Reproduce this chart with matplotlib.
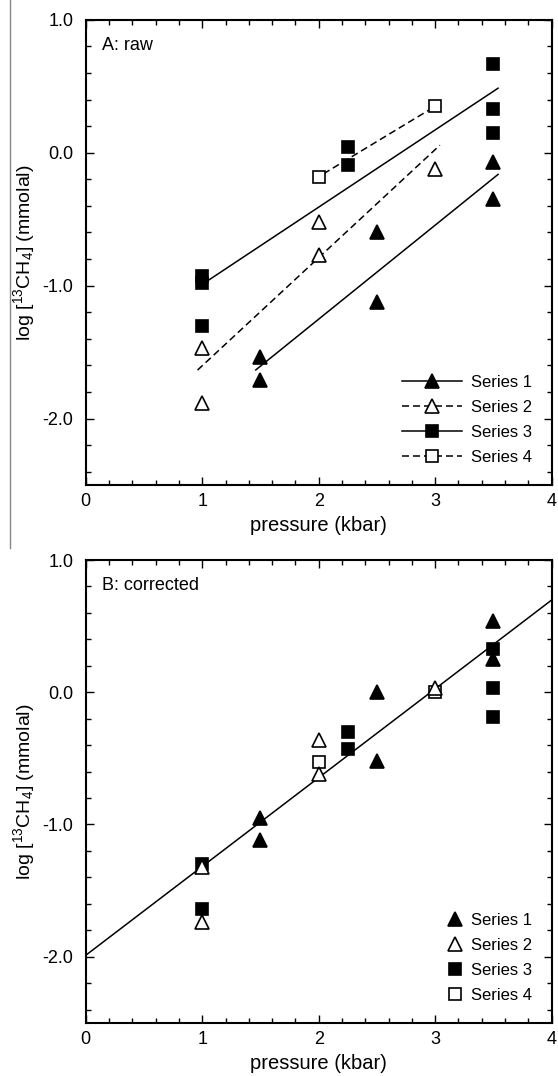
import numpy as np
import matplotlib
matplotlib.use('Agg')
import matplotlib.pyplot as plt
from matplotlib.lines import Line2D
from matplotlib.ticker import MultipleLocator, FormatStrFormatter

plt.rcParams['font.family'] = ['Liberation Sans', 'DejaVu Sans']
plt.rcParams['mathtext.default'] = 'regular'
plt.rcParams['axes.unicode_minus'] = False

# panel A: raw
raw_s1_x = [1.5, 1.5, 2.5, 2.5, 3.5, 3.5]
raw_s1_y = [-1.54, -1.71, -0.60, -1.12, -0.07, -0.35]
raw_s2_x = [1, 1, 2, 2, 3]
raw_s2_y = [-1.47, -1.88, -0.52, -0.77, -0.12]
raw_s3_x = [1, 1, 1, 2.25, 2.25, 3.5, 3.5, 3.5]
raw_s3_y = [-0.93, -0.98, -1.30, 0.04, -0.09, 0.67, 0.33, 0.15]
raw_s4_x = [2, 3]
raw_s4_y = [-0.18, 0.35]

# panel B: corrected
cor_s1_x = [1.5, 1.5, 2.5, 2.5, 3.5, 3.5]
cor_s1_y = [-0.95, -1.12, 0.0, -0.52, 0.54, 0.25]
cor_s2_x = [1, 1, 2, 2, 3]
cor_s2_y = [-1.32, -1.74, -0.36, -0.62, 0.03]
cor_s3_x = [1, 1, 2.25, 2.25, 3.5, 3.5, 3.5]
cor_s3_y = [-1.30, -1.64, -0.30, -0.43, 0.33, 0.03, -0.19]
cor_s4_x = [2, 3]
cor_s4_y = [-0.53, 0.0]
cor_fit_slope = 0.672
cor_fit_icept = -1.99

series_names = ['Series 1', 'Series 2', 'Series 3', 'Series 4']

# marker / line style per series
styles = [
    dict(marker='^', ms=10.5, mfc='black', ls='-'),
    dict(marker='^', ms=10.5, mfc='white', ls='--'),
    dict(marker='s', ms=8, mfc='black', ls='-'),
    dict(marker='s', ms=8, mfc='white', ls='--'),
]
DASH = (4.6, 2.6)
LW = 1.1

fig = plt.figure(figsize=(5.58, 10.76), dpi=100)
ax1 = fig.add_axes([0.1536, 0.5493, 0.8351, 0.4322])
ax2 = fig.add_axes([0.1536, 0.0495, 0.8351, 0.4300])


def setup(ax, tag):
    ax.set_xlim(0, 4)
    ax.set_ylim(-2.5, 1.0)
    ax.xaxis.set_major_locator(MultipleLocator(1))
    ax.xaxis.set_minor_locator(MultipleLocator(0.2))
    ax.yaxis.set_major_locator(MultipleLocator(1))
    ax.yaxis.set_minor_locator(MultipleLocator(0.2))
    ax.yaxis.set_major_formatter(FormatStrFormatter('%.1f'))
    ax.tick_params(which='both', direction='in', top=True, right=True, width=1.0)
    ax.tick_params(which='major', length=6)
    ax.tick_params(which='minor', length=3.6)
    ax.tick_params(axis='y', labelsize=13, pad=9)
    ax.tick_params(axis='x', labelsize=13, pad=6)
    for sp in ax.spines.values():
        sp.set_linewidth(1.5)
    ax.set_xlabel('pressure (kbar)', fontsize=14.5, labelpad=4)
    ax.set_ylabel('log [$^{13}$CH$_4$] (mmolal)', fontsize=14, labelpad=4)
    ax.text(0.036, 0.944, tag, transform=ax.transAxes, fontsize=13,
            ha='left', va='center')


def scatter(ax, x, y, st, z):
    ax.plot(x, y, ls='none', marker=st['marker'], ms=st['ms'],
            mfc=st['mfc'], mec='black', mew=1.2, zorder=z)


setup(ax1, 'A: raw')
setup(ax2, 'B: corrected')

# panel A: points with a least-squares line per series
raw = [(raw_s1_x, raw_s1_y), (raw_s2_x, raw_s2_y),
       (raw_s3_x, raw_s3_y), (raw_s4_x, raw_s4_y)]
for i, (x, y) in enumerate(raw):
    st = styles[i]
    k, b = np.polyfit(x, y, 1)
    xx = np.array([min(x) - 0.04, max(x) + 0.04])
    ln, = ax1.plot(xx, k * xx + b, color='black', lw=LW, ls=st['ls'], zorder=2)
    if st['ls'] == '--':
        ln.set_dashes(DASH)
    scatter(ax1, x, y, st, 3 + i)

h1 = []
for st in styles:
    h = Line2D([], [], color='black', lw=LW, ls=st['ls'], marker=st['marker'],
               ms=st['ms'], mfc=st['mfc'], mec='black', mew=1.2)
    if st['ls'] == '--':
        h.set_dashes(DASH)
    h1.append(h)
ax1.legend(h1, series_names, loc='lower right', frameon=False, fontsize=12,
           numpoints=1, handlelength=3.6, handletextpad=0.54,
           labelspacing=0.6, borderaxespad=0.8)

# panel B: corrected points and a single fitted line
xx = np.array([0, 4])
ax2.plot(xx, cor_fit_slope * xx + cor_fit_icept, color='black', lw=LW, zorder=2)
cor = [(cor_s1_x, cor_s1_y), (cor_s2_x, cor_s2_y),
       (cor_s3_x, cor_s3_y), (cor_s4_x, cor_s4_y)]
order = [0, 2, 3, 1]
for z, i in enumerate(order):
    x, y = cor[i]
    scatter(ax2, x, y, styles[i], 3 + z)

h2 = [Line2D([], [], ls='none', marker=st['marker'], ms=st['ms'],
             mfc=st['mfc'], mec='black', mew=1.2) for st in styles]
ax2.legend(h2, series_names, loc='lower right', frameon=False, fontsize=12,
           numpoints=1, handlelength=1.0, handletextpad=0.45,
           labelspacing=0.6, borderaxespad=0.8)

# thin page rule at the left of the top panel
fig.add_artist(Line2D([10 / 558, 10 / 558], [1.0, 1 - 548 / 1076],
                      color='#888888', lw=1.0))

fig.savefig('out.png', dpi=100)
